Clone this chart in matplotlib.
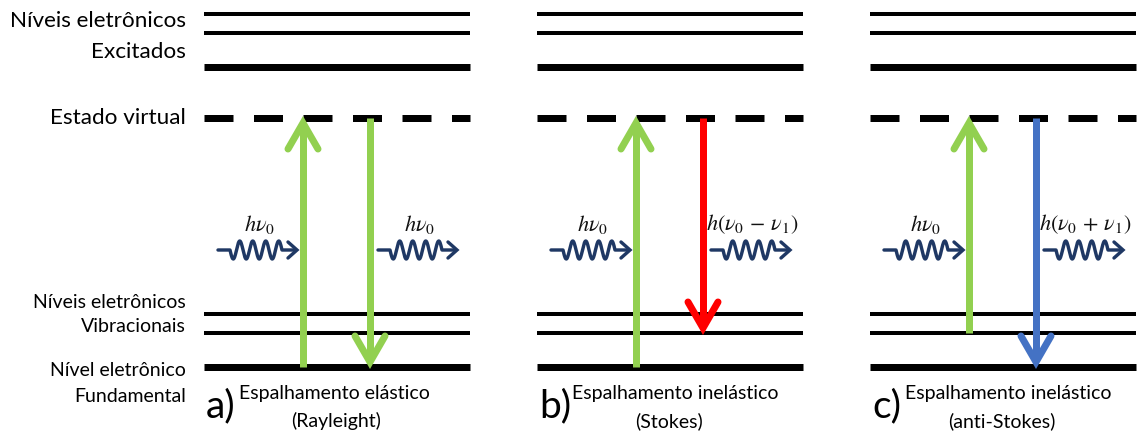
import numpy as np
import matplotlib.pyplot as plt

plt.rcParams['font.family'] = ['Lato', 'DejaVu Sans']
plt.rcParams['mathtext.fontset'] = 'stix'
plt.rcParams['lines.scale_dashes'] = False

PT = 0.72  # px -> pt at dpi 100

# níveis de energia (y em pixels, de cima para baixo)
excited_levels = [14, 33, 67]
excited_widths = [4, 4, 7]
virtual_level = 118
vib_levels = [314, 333]
ground_level = 367

panel_x0 = [204, 537, 870]
panel_w = 266
panel_letters = ['a)', 'b)', 'c)']
panel_titles = ['Espalhamento elástico', 'Espalhamento inelástico', 'Espalhamento inelástico']
panel_subtitles = ['(Rayleight)', '(Stokes)', '(anti-Stokes)']

# transições
up_start = [ground_level, ground_level, vib_levels[1]]
down_end = [ground_level, vib_levels[1], ground_level]
down_colors = ['#92d050', '#ff0000', '#4472c4']
in_label = r'$h\nu_0$'
out_labels = [r'$h\nu_0$', r'$h(\nu_0\,-\,\nu_1)$', r'$h(\nu_0\,+\,\nu_1)$']

left_labels = [('Níveis eletrônicos', 21, 16.2), ('Excitados', 52, 16.2),
               ('Estado virtual', 118, 16.2),
               ('Níveis eletrônicos', 302, 14), ('Vibracionais', 327, 14),
               ('Nível eletrônico', 371, 14), ('Fundamental', 396, 14)]

GREEN = '#92d050'
NAVY = '#1f3864'


def arrow(ax, x, y0, y1, color):
    d = np.sign(y1 - y0)
    ax.plot([x, x], [y0, y1 - d * 8], color=color, lw=7 * PT, solid_capstyle='butt')
    tip = y1 - d * 5
    ax.plot([x - 15, x, x + 15], [tip - d * 26, tip, tip - d * 26], color=color,
            lw=7 * PT, solid_joinstyle='miter', solid_capstyle='round')


def wavy(ax, x0, y, label):
    lead, period, ncyc, total = 12, 13, 4, 79
    xs = np.linspace(0, period * ncyc, 200)
    wx = np.concatenate([[0], lead + xs, [total - 2]]) + x0
    wy = np.concatenate([[0], 9 * np.sin(2 * np.pi * xs / period), [0]]) + y
    ax.plot(wx, wy, color=NAVY, lw=3.4 * PT, solid_capstyle='round', solid_joinstyle='round')
    tx = x0 + total
    ax.plot([tx - 9, tx, tx - 9], [y - 8, y, y + 8], color=NAVY, lw=3.4 * PT,
            solid_capstyle='round', solid_joinstyle='miter')
    ax.text(x0 + total / 2 + 2, y - 26, label, ha='center', va='center', fontsize=16, color='#111111')


fig = plt.figure(figsize=(11.39, 4.32), dpi=100)
ax = fig.add_axes([0, 0, 1, 1])
ax.set_xlim(0, 1139)
ax.set_ylim(432, 0)
ax.axis('off')

for i, x0 in enumerate(panel_x0):
    x1 = x0 + panel_w
    for y, w in zip(excited_levels, excited_widths):
        ax.plot([x0, x1], [y, y], color='black', lw=w * PT, solid_capstyle='butt')
    ax.plot([x0, x1], [virtual_level, virtual_level], color='black', lw=7 * PT,
            linestyle=(0, (29 * PT, 20.5 * PT)), dash_capstyle='butt')
    for y in vib_levels:
        ax.plot([x0, x1], [y, y], color='black', lw=4 * PT, solid_capstyle='butt')
    ax.plot([x0, x1], [ground_level, ground_level], color='black', lw=7 * PT, solid_capstyle='butt')

    arrow(ax, x0 + 99, up_start[i], virtual_level, GREEN)
    arrow(ax, x0 + 166, virtual_level, down_end[i], down_colors[i])

    wavy(ax, x0 + 14, 250, in_label)
    wavy(ax, x0 + 174, 250, out_labels[i])

    ax.text(x0 + 2, 406, panel_letters[i], ha='left', va='center', fontsize=28)
    ax.text(x0 + 35, 393, panel_titles[i], ha='left', va='center', fontsize=14)
    ax.text(x0 + 132, 421, panel_subtitles[i], ha='center', va='center', fontsize=14)

for txt, y, fs in left_labels:
    ax.text(186, y, txt, ha='right', va='center', fontsize=fs)

fig.savefig('out.png', dpi=100)
